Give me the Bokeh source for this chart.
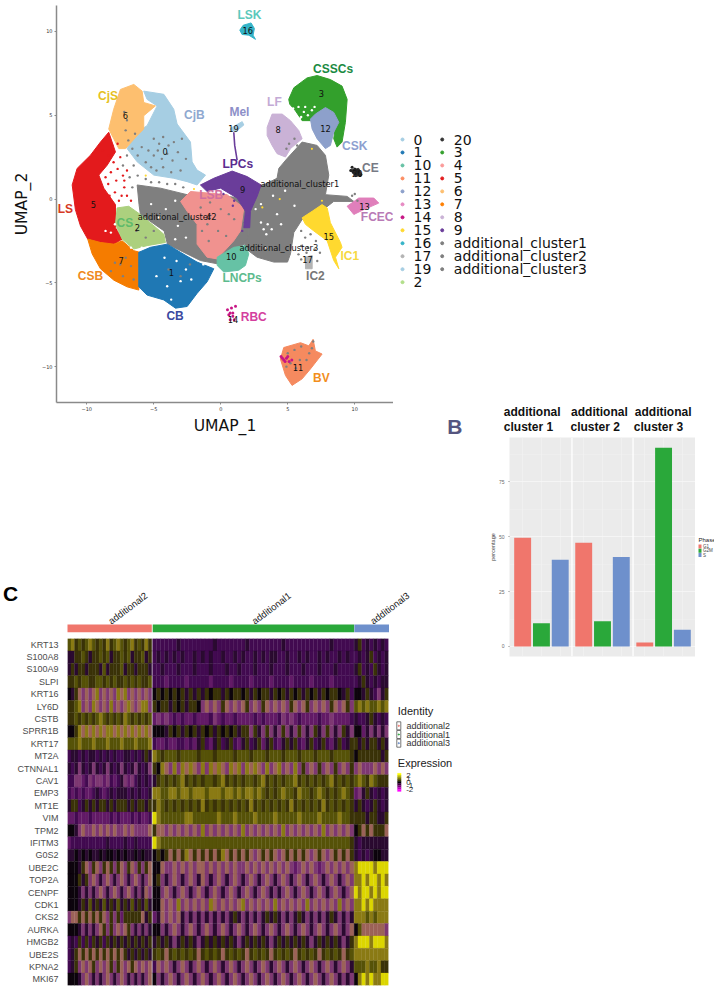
from bokeh.plotting import figure
from bokeh.layouts import row, column
from bokeh.embed import file_html
from bokeh.resources import INLINE
from bokeh.core.properties import value
from bokeh.models import (Range1d, FixedTicker, FactorRange, Label, Span, LinearColorMapper, ColumnDataSource)

# ---------- Panel A data: cluster outlines read from the UMAP (UMAP_1, UMAP_2) ----------
outline_ac1 = [(6.07,3.40),(7.19,3.20),(7.81,2.61),(8.06,1.43),(7.81,0.26),(9.43,0.16),(9.93,-0.14),(8.43,-0.14),(7.81,-0.53),
               (6.07,-1.22),(5.45,-2.0),(5.2,-3.27),(4.98,-3.76),(3.96,-3.76),(2.71,-3.47),(1.72,-2.88),(2.09,-2.1),(2.09,-1.12),
               (1.72,-0.33),(2.71,0.65),(4.2,1.24),(4.33,1.83),(4.95,2.42)]
outline_ac2 = [(-6.24,0.84),(-4.5,0.65),(-2.51,0.26),(-1.02,0.26),(1.72,0.06),(2.09,-1.51),(2.09,-2.49),(-0.27,-3.86),(-1.52,-3.67),
               (-3.98,-2.69),(-4.23,-1.9),(-6.0,-0.92),(-6.1,-0.33)]
outline_4 = [(-3.0,-0.14),(-2.26,0.45),(0.47,0.26),(1.72,-0.53),(1.47,-1.9),(0.97,-2.49),(-0.27,-3.57),(-1.02,-3.47),(-1.77,-2.69),
             (-1.77,-1.51),(-2.51,-0.73)]
outline_9 = [(-1.52,0.84),(-0.52,1.24),(0.85,1.67),(1.97,1.34),(3.01,0.84),(2.71,0.16),(2.21,-0.73),(2.16,-1.71),(1.72,-1.71),
             (1.84,-0.73),(1.22,0.06),(-0.02,0.65),(-1.02,0.45)]
outline_0 = [(-5.75,6.44),(-4.25,6.25),(-3.51,5.36),(-3.26,4.48),(-2.26,3.4),(-2.14,2.22),(-1.77,1.73),(-1.14,1.43),(-1.77,0.84),
             (-2.51,1.04),(-3.51,1.24),(-5.0,1.43),(-6.24,2.22),(-6.99,3.01),(-6.24,3.99),(-5.5,4.38),(-4.75,5.56),(-5.5,5.95)]
outline_6 = [(-8.36,4.18),(-7.99,5.36),(-7.49,6.54),(-6.49,6.84),(-5.87,6.44),(-5.75,5.76),(-4.88,5.56),(-5.75,4.97),(-5.75,4.18),
             (-6.24,3.79),(-7.11,3.01),(-7.61,3.01),(-7.99,3.6)]
outline_5 = [(-11.09,0.84),(-10.72,1.83),(-9.73,2.61),(-8.98,3.4),(-8.36,3.99),(-7.86,2.81),(-8.48,2.02),(-9.1,1.43),(-8.73,0.65),
             (-7.86,-0.33),(-7.86,-1.71),(-7.36,-2.39),(-7.98,-2.69),(-8.98,-2.59),(-9.93,-2.39),(-10.47,-1.61),(-10.85,-0.63)]
outline_2 = [(-7.74,-0.53),(-6.87,-0.43),(-6.0,-0.92),(-4.25,-2.1),(-4.13,-2.59),(-5.5,-2.78),(-6.49,-2.98),(-7.36,-2.39),(-7.86,-1.51)]
outline_7 = [(-9.93,-2.39),(-8.98,-2.59),(-7.98,-2.69),(-7.36,-2.49),(-6.49,-3.08),(-6.04,-3.18),(-6.12,-4.25),(-6.12,-5.43),
             (-6.99,-5.24),(-7.98,-4.84),(-8.98,-4.16),(-9.6,-3.27)]
outline_1 = [(-6.12,-3.18),(-5.25,-2.88),(-4.0,-2.69),(-3.01,-3.18),(-1.77,-3.76),(-0.52,-4.16),(-1.02,-4.94),(-1.77,-5.63),
             (-2.51,-6.41),(-3.38,-6.51),(-4.25,-6.02),(-5.5,-5.73),(-6.12,-5.24)]
outline_10 = [(-0.27,-3.47),(0.97,-2.88),(1.84,-2.78),(2.09,-3.27),(1.84,-3.96),(1.34,-4.25),(0.22,-4.35),(-0.27,-3.96)]
outline_15 = [(6.07,-1.12),(6.82,-0.73),(7.56,-0.33),(7.94,-0.53),(8.18,-1.41),(8.93,-2.59),(9.05,-2.88),(8.56,-3.47),(8.81,-4.16),
              (8.43,-3.67),(7.94,-2.49),(6.94,-1.9),(6.32,-1.51)]
outline_17 = [(6.32,-3.47),(6.82,-3.37),(6.82,-4.16),(6.32,-4.16)]
outline_13 = [(9.43,-0.43),(10.3,0.06),(11.42,0.06),(11.79,-0.24),(10.67,-0.63),(9.93,-0.92)]
outline_20 = [(9.68,1.73),(10.3,1.83),(10.55,1.43),(10.05,1.34)]
outline_3 = [(5.07,5.95),(5.45,6.64),(6.44,7.23),(7.19,7.37),(8.18,7.13),(9.05,6.74),(9.43,5.95),(9.3,4.58),(9.05,3.4),(8.68,3.1),
             (8.43,3.6),(8.56,4.38),(7.81,5.17),(6.94,4.68),(6.07,4.68),(5.57,5.27),(5.15,5.66)]
outline_12 = [(7.06,5.07),(7.81,5.46),(8.43,5.17),(8.81,4.58),(8.43,3.99),(8.18,3.2),(7.81,3.01),(7.19,3.6),(6.82,4.18),(6.69,4.77)]
outline_8 = [(3.46,4.28),(3.83,5.07),(4.58,5.07),(5.2,4.68),(5.82,4.09),(6.07,3.6),(5.2,3.01),(4.83,2.51),(4.2,2.71),(3.83,3.2),(3.46,3.79)]
outline_16 = [(1.42,10.08),(1.67,10.37),(2.26,10.51),(2.51,10.18),(2.41,9.78),(2.59,9.53),(2.09,9.78),(1.59,9.82)]
outline_11 = [(4.7,-8.86),(5.95,-8.57),(6.57,-8.76),(6.89,-8.37),(7.06,-9.06),(7.56,-9.25),(6.69,-10.14),(6.07,-10.73),(5.32,-11.12),
              (4.83,-10.53),(4.45,-9.55)]
outline_19 = [(0.72,4.22),(1.6,4.62),(1.72,4.42),(1.1,4.02),(0.72,4.12)]
mel_line = [(0.97,3.99),(1.04,3.2),(1.22,2.32)]

speck_grey = [(-5.0,3.6),(-4.6,3.3),(-4.3,3.7),(-3.9,3.2),(-3.5,3.4),(-5.4,2.9),(-5.0,2.6),(-4.7,2.9),(-4.4,2.4),(-4.0,2.7),(-3.6,2.3),
              (-3.2,2.8),(-5.6,2.2),(-5.2,1.9),(-4.8,1.7),(-4.3,1.9),(-3.7,1.6),(-3.0,1.7),(-2.6,2.4),(-2.9,3.6),(-5.9,3.1),(-6.2,2.6),
              (-6.6,3.0),(-7.1,4.1),(-6.9,3.5),(-6.4,3.9),(-7.2,5.2),(-7.0,4.7),(-7.0,2.6),(-6.5,2.0),(-6.2,1.4),(-7.3,2.0),(-6.8,1.3),
              (-5.6,1.2),(-5.2,1.0),(-4.6,1.0),(-4.0,0.9),(-3.4,0.9),(-2.8,0.7),(-6.6,0.7),(9.8,0.2),(10.2,-0.1),(9.6,-0.1),(10.0,0.3),
              (6.0,-1.9),(6.3,-2.3),(6.7,-2.1),(7.1,-2.5),(6.0,-2.8),(6.5,-2.9),(7.0,-3.0),(7.4,-3.2),(5.8,-3.3),(6.0,-3.6),(7.2,-3.7),
              (6.4,-3.2),(5.0,-9.2),(5.5,-9.0),(6.0,-8.8),(5.2,-9.8),(5.9,-9.6),(6.4,-9.6),(6.6,-9.2),(5.6,-10.1),(6.8,-8.9),(4.9,-10.0),
              (6.9,-8.5),(-1.5,-0.5),(-0.8,-0.2),(0.0,-0.6),(0.6,-0.9),(-1.0,-1.5),(-0.2,-1.9),(0.4,-2.2),(-0.9,-2.5),(1.0,-1.2),(-1.4,-1.9),
              (-7.5,-3.9),(-7.1,-3.5),(-6.7,-4.0),(-7.3,-4.6),(-6.5,-4.8),(-8.2,-4.3),(-7.9,-3.8),(-3.9,-4.2),(-3.0,-4.6),(-2.3,-3.9),
              (5.5,3.6),(5.1,3.3),(5.7,3.2),(4.9,3.0),(-6.3,-1.9),(-5.6,-2.3),(-5.0,-1.9)]
speck_white = [(3.2,-1.8),(3.5,-1.5),(3.8,-1.8),(3.4,-2.1),(3.0,-1.4),(4.2,-0.9),(4.5,-1.5),(2.6,-0.6),(-8.6,-1.9),(-8.2,-2.0),(-7.9,-1.5),
               (-4.2,-3.5),(-3.3,-3.7),(-2.6,-4.2),(-3.0,-4.9),(-4.0,-5.2),(-4.8,-4.6),(-2.2,-4.8),(-3.7,-6.0),(5.6,5.0),(5.9,4.8),(6.2,5.2),
               (6.5,5.0),(5.8,5.5),(6.3,5.5),(6.8,5.3),(6.0,4.9),(7.0,5.5),(5.4,5.4),(-5.2,-0.3),(-4.1,-0.6),(-3.4,-0.1),(-4.6,-1.1),(-3.2,-1.6),
               (-2.6,-2.3),(-3.4,-2.4),(3.0,-0.3),(3.9,0.2),(4.8,0.5),(5.5,-0.4),(3.4,-2.9),(-6.7,-2.9),(-5.9,-2.9),(-1.3,-3.9)]
speck_red = [(-8.8,2.9),(-8.4,2.6),(-8.0,2.2),(-7.7,1.8),(-7.3,1.4),(-8.2,1.6),(-7.8,1.1),(-7.2,0.7),(-8.4,0.9),(-7.9,0.4),(-7.4,0.2),
             (-8.3,0.2),(-7.0,1.7),(-7.5,2.5),(-9.2,2.4),(-8.6,1.3),(-7.0,0.2),(-6.7,-0.1),(-7.6,-0.1),(-7.2,1.1),(-8.1,3.2),(-7.7,3.3)]
speck_purple = [(1.5,0.0),(2.0,-0.9),(1.8,-1.4),(1.2,0.3),(0.6,0.9),(0.2,0.3),(0.9,-0.4),(1.6,-1.9),(2.3,-0.4),(2.5,0.4),(1.0,-0.1)]
speck_magenta = [(0.5,-6.6),(0.8,-6.5),(1.1,-6.4),(0.7,-6.8),(0.9,-7.0),(1.0,-7.2),(0.7,-7.2),(0.9,-6.8),(0.6,-6.9),(4.5,-9.4),(4.7,-9.6),
                 (4.9,-9.5),(5.1,-9.7),(4.6,-9.5),(4.8,-9.7),(5.3,-9.6),(5.0,-9.4)]
speck_black = [(9.7,1.7),(9.9,1.6),(10.1,1.5),(10.2,1.7),(10.4,1.4),(10.0,1.8),(9.8,1.9),(10.3,1.6)]
speck_yellow = [(7.55,-0.1),(4.4,0.0),(3.1,-0.5),(-2.0,0.6),(-5.6,1.4),(6.8,3.0)]

cluster_labels = ["LSK","CSSCs","CjS","CjB","Mel","LF","CSK","CE","LPCs","LSB","LS","CS","CSB","CB","LNCPs","RBC","BV","IC2","IC1","FCEC"]
cluster_label_colors = ["#5cc9bc","#1a8a42","#e6c11f","#8fa8d0","#8d8fc8","#c3aad5","#8ea0d0","#777a85","#5b2d90","#d06fa0","#d63a24",
                        "#5fbb6a","#ef8a1d","#3b49a0","#5dbb8e","#d43f9e","#f28e1c","#777777","#f6d943","#b97ab6"]
cluster_label_x = [2.14,8.38,-8.41,-1.97,1.39,4.0,10.0,11.17,1.27,-0.72,-11.6,-7.16,-9.73,-3.41,1.59,2.46,7.51,7.06,9.63,11.67]
cluster_label_y = [10.96,7.76,6.15,5.01,5.17,5.82,3.18,1.87,2.08,0.22,-0.59,-1.41,-4.57,-6.96,-4.71,-7.04,-10.67,-4.57,-3.41,-1.08]
id_labels = ["16","3","6","0","19","8","12","20","9","additional_cluster1","13","5","additional_cluster2","4","2","10","additional_cluster3","15","17","7","1","14","11"]
id_x = [2.01,7.51,-7.12,-4.15,0.95,4.28,7.81,10.18,1.64,5.9,10.72,-9.5,-3.26,-0.9,-6.22,0.79,4.33,8.06,6.47,-7.44,-3.68,0.92,5.77]
id_y = [10.06,6.29,5.0,2.81,4.22,4.15,4.22,1.53,0.59,0.88,-0.43,-0.33,-1.06,-1.06,-1.71,-3.41,-2.94,-2.25,-3.63,-3.67,-4.41,-7.2,-10.04]

legend_col1 = ["0","1","10","11","12","13","14","15","16","17","19","2"]
legend_col1_colors = ["#a6cee3","#1f78b4","#66c2a5","#fc8d62","#8da0cb","#e78ac3","#c71585","#ffd92f","#35b4c8","#b3b3b3","#a6cee3","#b2df8a"]
legend_col2 = ["20","3","4","5","6","7","8","9","additional_cluster1","additional_cluster2","additional_cluster3"]
legend_col2_colors = ["#333333","#33a02c","#fb9a99","#e31a1c","#fdbf6f","#ff7f00","#cab2d6","#6a3d9a","#7f7f7f","#7f7f7f","#7f7f7f"]

# ---------- Panel B data ----------
facets = ["additional cluster 1","additional cluster 2","additional cluster 3"]
phases = ["G1","G2M","S"]
pct_G1 = [49.5,47.2,1.8]
pct_G2M = [10.6,11.5,90.5]
pct_S = [39.5,40.8,7.6]
phase_colors = ["#f0766c","#2aa83a","#6e90cc"]

# ---------- Panel C data: expression levels, one digit per block of cells ----------
genes = ["KRT13","S100A8","S100A9","SLPI","KRT16","LY6D","CSTB","SPRR1B","KRT17","MT2A","CTNNAL1","CAV1","EMP3","MT1E","VIM","TPM2",
         "IFITM3","G0S2","UBE2C","TOP2A","CENPF","CDK1","CKS2","AURKA","HMGB2","UBE2S","KPNA2","MKI67"]
groups = ["additional2","additional1","additional3"]
group_cells = [84.3,201.5,34.6]
group_colors = ["#f0766c","#2aa83a","#6e90cc"]
expr_additional2 = ["786767876768678767867686","116676166767166767166716","161661666171666716616661","667677667767676676767667",
  "016545458454548584545454","667845485454845458545884","667676767876767687676767","006858585858858585858585",
  "777877787778777877787778","211212112121212211212161","121412141214121412141214","224432434434232143421212",
  "232323321232121112121221","166216161661616661616616","332333233333232333232332","001454454545454454544445",
  "322222222221222212212222","110101011010010101101011","000165465465646546546465","000616454145414541454145",
  "000141414541454145414154","000161716171617161716171","455656565654646366666516","000141414564645456414141",
  "212626261626161616161616","216565656565656561616161","216454564545646545654545","000145414145414541414145"]
expr_additional1 = ["22222212222222212222222122222222122222222222122222","21212121221212122122121221212112212212122121221212",
  "22122212221222122212212221222122212221222122212222","22232222322222322223222232222322223222232222322222",
  "06060606161616066160660616066160616061606160660162","60661606166045454654545645465454546545645454654564",
  "34343232332333243233233332323332434323333233433332","00016061606160616060616646146414641464146146414614",
  "23323322323162316216231621631623161623162162316216","87677767777677767777677767776777677767776777677776",
  "60854848585484858548584858548458454846454645464546","16767678676767767867676776786767677867676767867676",
  "88778878878887888788787887876767877687767876767876","68767676767686767676767686767676768676767686767676",
  "98777777887777778777877778777787777787777877778776","65545454545484545454548454545454845454545484545454",
  "98777777777777777777777777777777777777777777777776","06065656856565656856565654565654565656545654565656",
  "00544545454554545454544545454545454345454345454545","06414541454154145414541454145414541454145414541454",
  "00454145414541454145414541454141454145414541454145","00545484545454854545458454545484545454845454548454",
  "31545451414141414141614141416161414161414141614141","00414541454145414541454145414541454145414541454145",
  "16161416161416161616141616161416161616141616161416","67656767676567676567676567676567676567676567676567",
  "25454145414541454145414541454145414541454145414541","04145414541454145414541454145414541454145414541414"]
expr_additional3 = ["162121212","212162121","162126121","216121211","001612416","787877878","122161212","003141414","616166161",
  "066666616","454445454","787687666","341612121","161216121","666166116","065656665","121111111","121210011","899998999",
  "889899898","989989899","889898888","888787888","075555554","899989998","888888888","777877866","089898899"]
expr_palette = ["#0c040c","#2a0a30","#420a50","#621a66","#7e3872","#9c6258","#3a3208","#565208","#8a7a14","#dcd600"]
identity_order = ["additional2","additional1","additional3"]
colorbar_levels = [2,1.5,1,0.5,0,-0.5,-1,-1.5,-2]
colorbar_colors = ["#ffff00","#bfbf00","#808000","#404000","#000000","#400040","#800080","#bf00bf","#ff00ff"]
colorbar_ticks = ["2","1","0","-1","-2"]

SANS = "Liberation Sans"
DJ = "DejaVu Sans"

def bare(p):
    p.outline_line_color = None
    p.xgrid.visible = False
    p.ygrid.visible = False
    p.xaxis.visible = False
    p.yaxis.visible = False

# ================= Panel A =================
A = figure(width=393, height=437, x_range=Range1d(-12.26, 12.89), y_range=Range1d(-12.14, 11.55),
           output_backend="svg", toolbar_location=None, min_border_left=56, min_border_right=0,
           min_border_top=5, min_border_bottom=30, frame_align=False)
A.outline_line_color = None
A.xgrid.visible = False
A.ygrid.visible = False
A.xaxis.ticker = FixedTicker(ticks=[-10, -5, 0, 5, 10])
A.yaxis.ticker = FixedTicker(ticks=[-10, -5, 0, 5, 10])
A.xaxis.axis_label = "UMAP_1"
A.yaxis.axis_label = "UMAP_2"
for ax in (A.xaxis[0], A.yaxis[0]):
    ax.axis_label_text_font = DJ
    ax.axis_label_text_font_style = "normal"
    ax.axis_label_text_font_size = "15.6px"
    ax.axis_label_text_color = "#111111"
    ax.axis_line_color = "#8a8a8a"
    ax.axis_line_width = 1.5
    ax.major_tick_line_color = "#8a8a8a"
    ax.major_tick_out = 2
    ax.major_tick_in = 0
    ax.minor_tick_line_color = None
    ax.major_label_text_font_size = "5px"
    ax.major_label_text_color = "#333333"
    ax.major_label_text_font = DJ
    ax.major_label_standoff = 2
A.xaxis.axis_label_standoff = 3
A.yaxis.axis_label_standoff = 8

layers = [(outline_ac2,"#7f7f7f"),(outline_ac1,"#7f7f7f"),(outline_4,"#f0928f"),(outline_9,"#6a3d9a"),(outline_0,"#a6cee3"),
          (outline_6,"#fdbf6f"),(outline_5,"#e31a1c"),(outline_2,"#acd07e"),(outline_7,"#f57c00"),(outline_1,"#1f78b4"),
          (outline_10,"#66c2a5"),(outline_15,"#ffd92f"),(outline_17,"#b3b3b3"),(outline_13,"#e07fbb"),(outline_20,"#333333"),
          (outline_3,"#33a02c"),(outline_12,"#8da0cb"),(outline_8,"#cab2d6"),(outline_16,"#35b4c8"),(outline_11,"#f58a5f"),
          (outline_19,"#a6cee3")]
for pts, c in layers:
    A.patch([q[0] for q in pts], [q[1] for q in pts], fill_color=c, line_color=c, line_width=1)
A.line([q[0] for q in mel_line], [q[1] for q in mel_line], line_color="#6a3d9a", line_width=1.6)
for pts, c, s in [(speck_white,"#ffffff",2.4),(speck_grey,"#7f7f7f",2.4),(speck_red,"#e31a1c",2.4),(speck_purple,"#6a3d9a",2.4),
                  (speck_magenta,"#c71585",3),(speck_black,"#222222",3),(speck_yellow,"#ffd92f",2.2)]:
    A.scatter([q[0] for q in pts], [q[1] for q in pts], size=s, fill_color=c, line_color=None)
A.text(id_x, id_y, text=id_labels, text_font=value(DJ), text_font_size="8.3px", text_color="#111111",
       text_align="center", text_baseline="middle")
A.text(cluster_label_x, cluster_label_y, text=cluster_labels, text_font=value(SANS), text_font_style="bold", text_font_size="12px",
       text_color=cluster_label_colors, text_align="center", text_baseline="middle")
A.add_layout(Label(x=-15.73, y=11.25, text="A", text_font=SANS, text_font_style="bold", text_font_size="21px", text_color="#000000",
                   text_align="center", text_baseline="middle"))

# ================= legend of panel A, facet titles and letter of panel B =================
L = figure(width=321, height=437, x_range=Range1d(393, 714), y_range=Range1d(437, 0), output_backend="svg", toolbar_location=None,
           min_border=0, frame_align=False)
bare(L)
rows1 = [139 + 12.97 * i for i in range(len(legend_col1))]
rows2 = [139 + 12.97 * i for i in range(len(legend_col2))]
L.scatter([402] * len(rows1), rows1, size=3, color=legend_col1_colors)
L.scatter([441.7] * len(rows2), rows2, size=3, color=legend_col2_colors)
L.text([413] * len(rows1), rows1, text=legend_col1, text_font=value(DJ), text_font_size="14px", text_color="#111111", text_baseline="middle")
L.text([453.3] * len(rows2), rows2, text=legend_col2, text_font=value(DJ), text_font_size="14px", text_color="#111111", text_baseline="middle")
L.text([503.3, 503.3, 570.6, 570, 634.3, 633.3], [411.7, 426.7] * 3,
       text=["additional", "cluster 1", "additional", "cluster 2", "additional", "cluster 3"],
       text_font=value(SANS), text_font_style="bold", text_font_size="12px", text_color="#111111", text_baseline="middle")
L.text([454.3], [425.5], text=["B"], text_font=value(SANS), text_font_style="bold", text_font_size="21px", text_color="#55557f",
       text_align="center", text_baseline="middle")

# ================= Panel B =================
factors = [(f, ph) for f in facets for ph in phases]
B = figure(width=209, height=223, output_backend="svg", toolbar_location=None,
           x_range=FactorRange(factors=factors, factor_padding=0, group_padding=0.25, subgroup_padding=0,
                               range_padding=0.2, range_padding_units="absolute"),
           y_range=Range1d(-4.57, 95.2), min_border_left=15, min_border_right=0, min_border_top=0, min_border_bottom=4,
           background_fill_color="#ebebeb", frame_align=False)
B.outline_line_color = None
B.xaxis.visible = False
B.xgrid.grid_line_color = "#f4f4f4"
B.xgrid.grid_line_width = 0.6
B.ygrid.grid_line_color = "#f7f7f7"
B.ygrid.grid_line_width = 0.8
B.ygrid.minor_grid_line_color = "#f2f2f2"
B.ygrid.minor_grid_line_width = 0.4
B.yaxis.ticker = FixedTicker(ticks=[0, 25, 50, 75], minor_ticks=[12.5, 37.5, 62.5, 87.5])
B.yaxis.axis_line_color = None
B.yaxis.major_tick_line_color = "#888888"
B.yaxis.major_tick_out = 1
B.yaxis.major_tick_in = 0
B.yaxis.minor_tick_line_color = None
B.yaxis.major_label_text_font_size = "5px"
B.yaxis.major_label_text_color = "#6a6a6a"
B.yaxis.major_label_standoff = 1
B.yaxis.axis_label = "percentage"
B.yaxis.axis_label_text_font = SANS
B.yaxis.axis_label_text_font_style = "normal"
B.yaxis.axis_label_text_font_size = "5.5px"
B.yaxis.axis_label_standoff = 0
for ph, vals, c in zip(phases, [pct_G1, pct_G2M, pct_S], phase_colors):
    src = ColumnDataSource(dict(x=[(f, ph) for f in facets], top=vals))
    B.vbar(x="x", top="top", bottom=0, width=0.9, source=src, fill_color=c, line_color=None)
for loc in (3.125, 6.375):
    B.add_layout(Span(location=loc, dimension="height", line_color="#ffffff", line_width=1.3))

# legend of panel B
BL = figure(width=19, height=223, x_range=Range1d(695, 714), y_range=Range1d(660, 437), output_backend="svg", toolbar_location=None,
            min_border=0, frame_align=False)
bare(BL)
BL.text([698], [539], text=["Phase"], text_font=value(SANS), text_font_size="6px", text_color="#222222", text_baseline="middle")
BL.rect([699.5] * 3, [546, 550.3, 554.6], width=3, height=4, fill_color=phase_colors, line_color=None)
BL.text([702.5] * 3, [546, 550.3, 554.6], text=phases, text_font=value(SANS), text_font_size="4.5px", text_color="#444444",
        text_baseline="middle")

# ================= Panel C top strip =================
starts = [0, group_cells[0] + 0.9, group_cells[0] + group_cells[1] + 1.1]
S = figure(width=486, height=201, x_range=Range1d(-67, 419), y_range=Range1d(638, 437), output_backend="svg", toolbar_location=None,
           min_border=0, frame_align=False)
bare(S)
S.quad(left=starts, right=[a + b for a, b in zip(starts, group_cells)], top=[624] * 3, bottom=[631.7] * 3,
       fill_color=group_colors, line_color=None)
S.text([42, 185.5, 304], [621.5] * 3, text=groups, angle=37, angle_units="deg", text_font=value(SANS), text_font_size="9.5px",
       text_color="#222222", text_baseline="middle")
S.text([-57], [593], text=["C"], text_font=value(SANS), text_font_style="bold", text_font_size="21px", text_color="#000000",
       text_align="center", text_baseline="middle")

# ================= Panel C heatmap =================
H = figure(width=393, height=349, x_range=Range1d(0, 321.3), y_range=FactorRange(factors=genes[::-1]), output_backend="svg",
           toolbar_location=None, min_border_left=67, min_border_right=5, min_border_top=0, min_border_bottom=2, frame_align=False)
H.outline_line_color = None
H.xgrid.visible = False
H.ygrid.visible = False
H.xaxis.visible = False
H.yaxis.axis_line_color = None
H.yaxis.major_tick_line_color = None
H.yaxis.major_label_text_font = SANS
H.yaxis.major_label_text_font_size = "9px"
H.yaxis.major_label_text_color = "#4d4d4d"
H.yaxis.major_label_standoff = 3
xs, ws, ys, vs = [], [], [], []
for g0, cells, table in zip(starts, group_cells, [expr_additional2, expr_additional1, expr_additional3]):
    for gene, digits in zip(genes, table):
        w = cells / len(digits)
        for i, d in enumerate(digits):
            xs.append(g0 + (i + 0.5) * w)
            ws.append(w)
            ys.append(gene)
            vs.append(int(d))
mapper = LinearColorMapper(palette=expr_palette, low=-0.5, high=9.5)
hsrc = ColumnDataSource(dict(x=xs, y=ys, w=ws, v=vs))
H.rect(x="x", y="y", width="w", height=1.0, source=hsrc, fill_color={"field": "v", "transform": mapper},
       line_color={"field": "v", "transform": mapper}, line_width=0.3)

# ================= Panel C legends =================
K = figure(width=93, height=349, x_range=Range1d(393, 486), y_range=Range1d(987, 638), output_backend="svg", toolbar_location=None,
           min_border=0, frame_align=False)
bare(K)
K.text([397.3, 397.3], [710, 762.3], text=["Identity", "Expression"], text_font=value(SANS), text_font_size="11px", text_color="#222222",
       text_baseline="middle")
key_y = [725.3, 734, 742.7]
K.rect([398.3] * 3, key_y, width=4, height=8, fill_color="#ffffff", line_color="#555555", line_width=0.8)
K.scatter([398.3] * 3, key_y, size=1.2, color=group_colors)
K.text([406] * 3, key_y, text=identity_order, text_font=value(SANS), text_font_size="9px", text_color="#333333", text_baseline="middle")
bar_y = [772.7 + (i + 0.5) * (18.3 / len(colorbar_levels)) for i in range(len(colorbar_levels))]
K.rect([398.8] * len(bar_y), bar_y, width=3.7, height=18.3 / len(colorbar_levels), fill_color=colorbar_colors, line_color=colorbar_colors,
       line_width=0.2)
K.text([405.7] * 5, [774.5, 778, 781.5, 785, 788.5], text=colorbar_ticks, text_font=value(SANS), text_font_size="8px", text_color="#333333",
       text_baseline="middle")

top_part = row(A, L, spacing=0)
left_low = column(S, row(H, K, spacing=0), spacing=0)
right_low = row(B, BL, spacing=0)
page = column(top_part, row(left_low, right_low, spacing=0), spacing=0)
open("out.html", "w").write(file_html(page, INLINE))
